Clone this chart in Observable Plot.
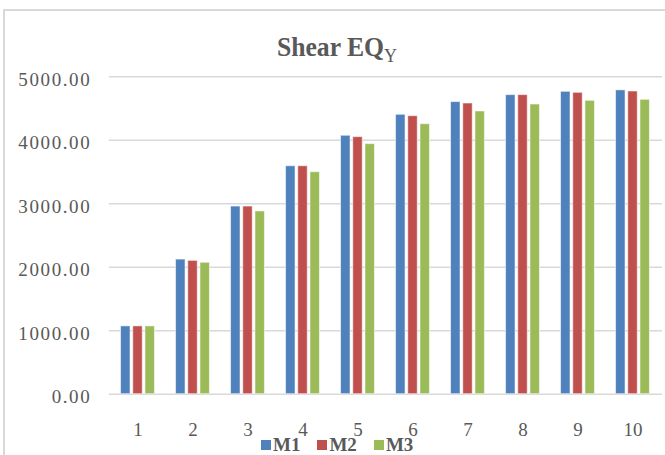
<!DOCTYPE html>
<html><head><meta charset="utf-8">
<script src="https://cdn.jsdelivr.net/npm/d3@7"></script>
<script src="https://cdn.jsdelivr.net/npm/@observablehq/plot@0.6"></script>
<style>
html,body{margin:0;padding:0;background:#fff;overflow:hidden;width:665px;height:455px;}
#frame{position:absolute;left:3px;top:9px;width:720px;height:520px;border:2px solid #d9d9d9;box-sizing:border-box;}
#chart{position:absolute;left:0;top:0;}
#title{position:absolute;left:237px;top:34px;width:200px;text-align:center;font-family:"Liberation Serif",serif;font-weight:bold;font-size:27px;line-height:27px;color:#595959;white-space:nowrap;transform:scaleX(0.95);}
#title span{font-weight:normal;font-size:19px;position:relative;top:6px;}
#legend{position:absolute;left:261px;top:437px;display:flex;gap:17px;font-family:"Liberation Serif",serif;font-weight:bold;font-size:19px;line-height:16px;color:#595959;}
#legend .item{display:flex;align-items:flex-start;}
#legend .sw{width:10px;height:10px;margin-top:3px;margin-right:2px;}
g[aria-label="y-axis tick label"] text{letter-spacing:1.6px;}
</style>
</head><body>
<div id="frame"></div>
<div id="chart"></div>
<div id="title">Shear EQ<span>Y</span></div>
<div id="legend"></div>
<script>
const categories = ["1","2","3","4","5","6","7","8","9","10"];
const seriesNames = ["M1","M2","M3"];
const seriesColors = ["#4f81bd","#c0504d","#9bbb59"];
const m1 = [1068, 2120, 2955, 3590, 4070, 4400, 4600, 4710, 4762, 4785];
const m2 = [1068, 2100, 2955, 3590, 4048, 4378, 4578, 4710, 4746, 4767];
const m3 = [1068, 2070, 2878, 3496, 3938, 4252, 4452, 4562, 4620, 4636];
const yTicks = [0, 1000, 2000, 3000, 4000, 5000];

const seriesValues = [m1, m2, m3];
const rows = [];
seriesNames.forEach((s, si) => categories.forEach((c, ci) => rows.push({cat: c, series: s, value: seriesValues[si][ci]})));

const W = 665, H = 440, ML = 108.8, MR = 3, MT = 76.2, MB = 46.3;
const step = (W - ML - MR) / categories.length;
const barW = 9.8, offset = 12.2;

const barMarks = seriesNames.map((s, i) => {
  const k = i - 1;
  return Plot.barY(rows.filter(d => d.series === s), {
    x: "cat", y: "value", fill: seriesColors[i],
    stroke: "#ffffff", strokeOpacity: 0.55, strokeWidth: 1,
    insetLeft: step / 2 + k * offset - barW / 2,
    insetRight: step / 2 - k * offset - barW / 2
  });
});

const chart = Plot.plot({
  width: W, height: H,
  marginLeft: ML, marginRight: MR, marginTop: MT, marginBottom: MB,
  style: {fontFamily: "Liberation Serif, serif", fontSize: "19px", color: "#595959", background: "transparent", overflow: "visible"},
  x: {type: "band", domain: categories, padding: 0},
  y: {domain: [0, 5000]},
  marks: [
    Plot.ruleY(yTicks, {stroke: "#d9d9d9", strokeWidth: 1.6}),
    ...barMarks,
    Plot.axisY(yTicks, {tickSize: 0, tickPadding: 18, tickFormat: d => d.toFixed(2), dy: 3, label: null, fill: "#595959"}),
    Plot.axisX(categories, {tickSize: 0, tickPadding: 28, label: null, fill: "#595959"})
  ]
});
document.getElementById("chart").appendChild(chart);

const legend = document.getElementById("legend");
seriesNames.forEach((s, i) => {
  const item = document.createElement("div");
  item.className = "item";
  const sw = document.createElement("div");
  sw.className = "sw";
  sw.style.background = seriesColors[i];
  const t = document.createElement("span");
  t.textContent = s;
  item.appendChild(sw); item.appendChild(t);
  legend.appendChild(item);
});
</script>
</body></html>
